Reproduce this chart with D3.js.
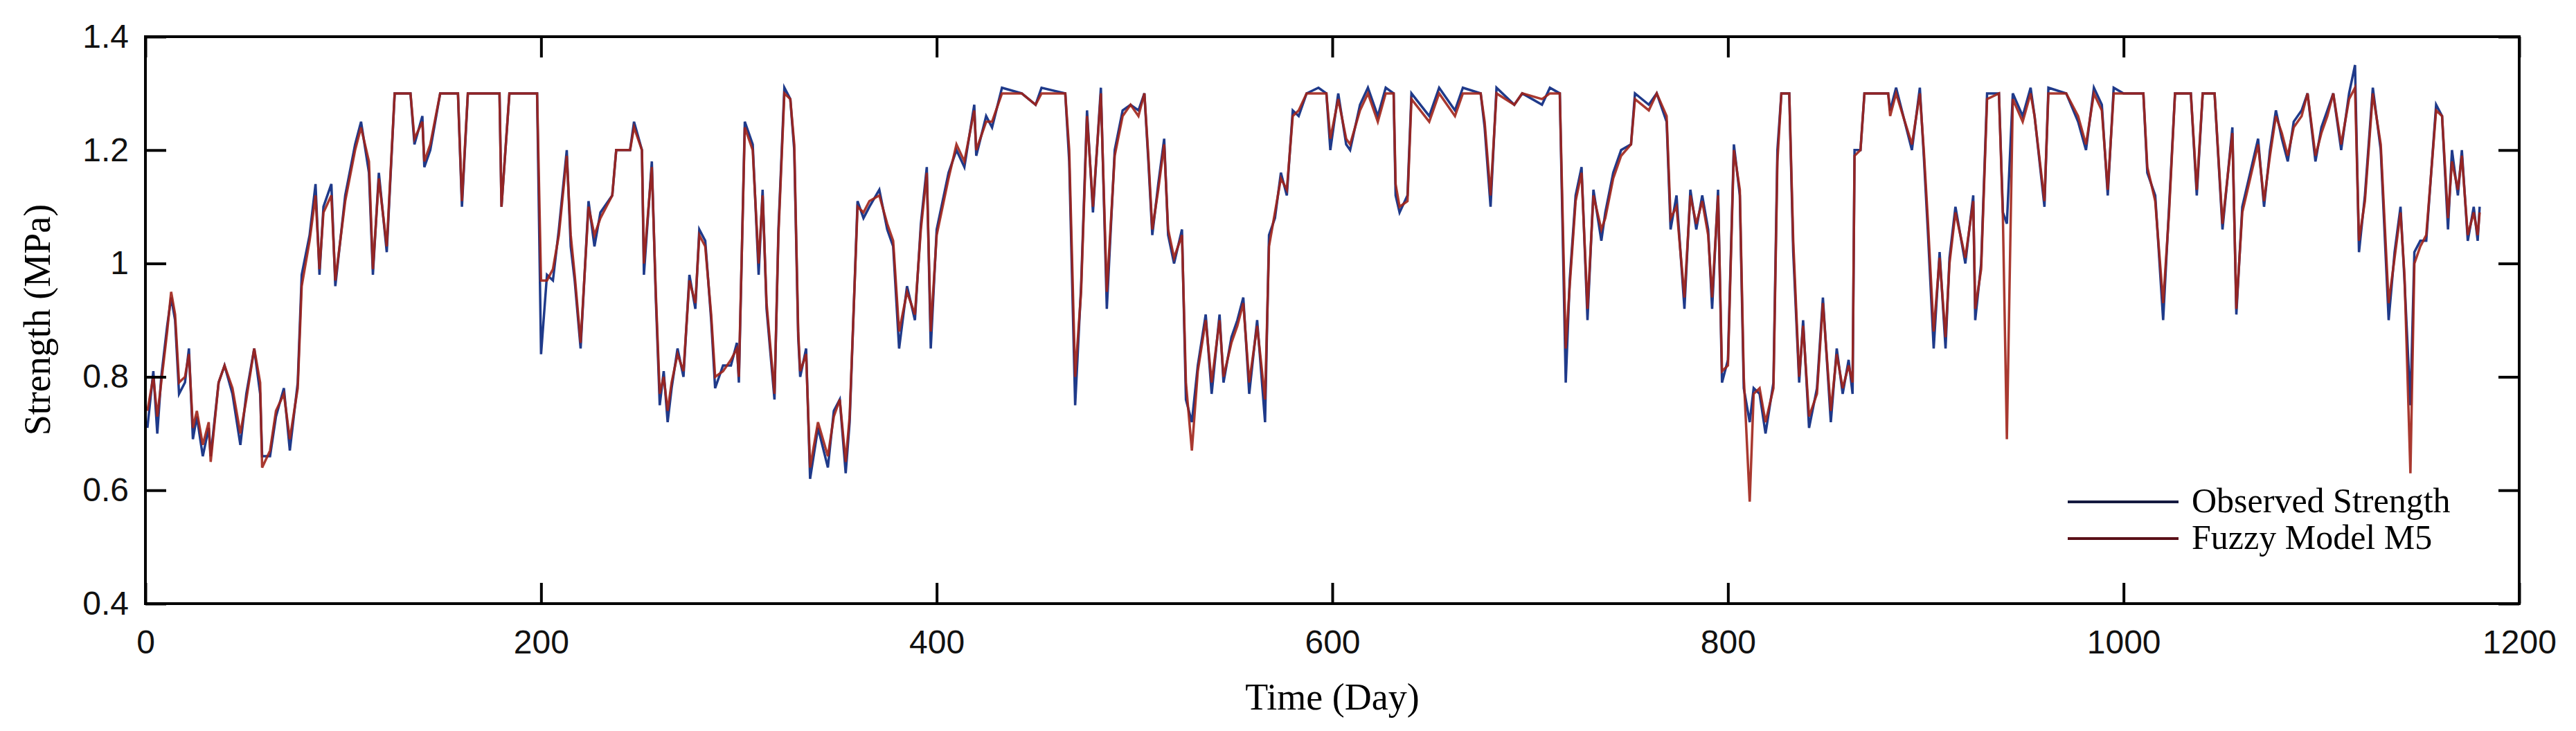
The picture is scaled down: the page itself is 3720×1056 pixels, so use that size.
<!DOCTYPE html>
<html><head><meta charset="utf-8">
<script src="https://cdn.jsdelivr.net/npm/d3@7"></script>
<style>body{margin:0;background:#fff}</style></head>
<body><svg id="c" width="3720" height="1056"></svg>
<script>
const days = [1,4,6,8,11,13,15,17,20,22,24,26,29,32,33,37,40,44,48,51,55,58,59,63,66,70,73,77,79,83,86,88,90,94,96,101,106,109,113,115,118,122,126,134,136,140,141,144,149,158,160,163,168,173,179,180,184,198,200,203,206,209,213,215,217,220,224,227,230,236,238,245,247,251,252,256,258,260,262,264,266,269,272,275,278,280,283,286,288,292,296,299,300,303,307,310,
312,314,318,320,323,326,328,330,331,334,336,340,345,348,351,354,356,360,363,366,371,375,378,381,385,389,392,395,397,400,406,410,414,419,420,425,428,433,443,450,453,465,467,470,473,476,479,483,486,490,494,498,502,505,507,509,512,515,517,520,524,526,529,532,536,539,543,545,549,552,555,558,562,566,568,571,574,577,580,583,587,593,597,599,603,
607,609,614,618,623,627,631,632,634,638,640,649,654,662,666,675,677,680,683,692,696,706,710,715,716,718,720,723,726,729,732,736,738,742,746,751,753,760,764,769,771,774,778,781,784,787,790,792,795,797,800,803,806,808,811,813,816,819,823,825,827,831,833,836,838,841,845,848,852,855,858,861,863,864,867,869,881,882,885,893,897,899,901,904,
907,910,912,915,920,924,925,928,931,937,939,941,944,949,953,955,960,962,971,977,981,985,989,992,995,1000,1010,1012,1016,1020,1023,1026,1034,1037,1040,1046,1050,1055,1057,1060,1064,1068,1071,1074,1077,1080,1083,1086,1090,1093,1097,1100,1103,1106,1110,1114,1117,1119,1122,1126,1130,1134,1137,1140,1142,1145,1147,1150,1153,1158,1161,1164,1166,1169,1171,1174,1177,1179,1180];

const observed = [0.71,0.81,0.70,0.80,0.89,0.94,0.90,0.77,0.79,0.85,0.69,0.73,0.66,0.71,0.66,0.79,0.82,0.77,0.68,0.77,0.85,0.77,0.66,0.66,0.73,0.78,0.67,0.79,0.98,1.05,1.14,0.98,1.10,1.14,0.96,1.12,1.21,1.25,1.16,0.98,1.16,1.02,1.30,1.30,1.21,1.26,1.17,1.20,1.30,1.30,1.10,1.30,1.30,1.30,1.30,1.10,1.30,1.30,0.84,0.98,0.97,1.06,1.20,1.03,0.97,0.85,1.11,1.03,1.09,1.12,1.20,1.20,1.25,1.20,0.98,1.18,0.94,0.75,0.81,0.72,0.78,0.85,0.80,0.98,0.92,1.06,1.04,0.90,0.78,0.82,0.82,0.86,0.79,1.25,1.21,0.98,
1.13,0.92,0.76,1.06,1.31,1.29,1.20,0.87,0.80,0.85,0.62,0.71,0.64,0.74,0.76,0.63,0.72,1.11,1.08,1.10,1.13,1.06,1.03,0.85,0.96,0.90,1.07,1.17,0.85,1.06,1.16,1.20,1.17,1.28,1.19,1.26,1.24,1.31,1.30,1.28,1.31,1.30,1.18,0.75,0.96,1.27,1.09,1.31,0.92,1.20,1.27,1.28,1.27,1.30,1.18,1.05,1.14,1.22,1.05,1.00,1.06,0.76,0.72,0.82,0.91,0.77,0.91,0.79,0.87,0.90,0.94,0.77,0.90,0.72,1.05,1.08,1.16,1.12,1.27,1.26,1.30,1.31,1.30,1.20,1.30,
1.21,1.20,1.28,1.31,1.26,1.31,1.30,1.12,1.09,1.12,1.30,1.26,1.31,1.27,1.31,1.30,1.24,1.10,1.31,1.28,1.30,1.28,1.31,1.30,1.13,0.79,0.97,1.12,1.17,0.90,1.13,1.04,1.09,1.16,1.20,1.21,1.30,1.28,1.30,1.25,1.06,1.12,0.92,1.13,1.06,1.12,1.06,0.92,1.13,0.79,0.83,1.21,1.12,0.78,0.72,0.78,0.77,0.70,0.79,1.20,1.30,1.30,1.02,0.79,0.90,0.71,0.78,0.94,0.72,0.85,0.77,0.83,0.77,1.20,1.20,1.30,1.30,1.27,1.31,1.20,1.31,1.19,1.06,0.85,
1.02,0.85,1.01,1.10,1.00,1.12,0.90,1.00,1.30,1.30,1.09,1.07,1.30,1.26,1.31,1.26,1.10,1.31,1.30,1.25,1.20,1.31,1.28,1.12,1.31,1.30,1.30,1.16,1.12,0.90,1.10,1.30,1.30,1.12,1.30,1.30,1.06,1.24,0.91,1.10,1.16,1.22,1.10,1.20,1.27,1.22,1.18,1.25,1.27,1.30,1.18,1.24,1.27,1.30,1.20,1.30,1.35,1.02,1.12,1.31,1.20,0.90,1.02,1.10,0.97,0.75,1.02,1.04,1.04,1.28,1.26,1.06,1.20,1.12,1.20,1.04,1.10,1.04,1.10];

const model = [0.74,0.80,0.73,0.79,0.88,0.95,0.91,0.79,0.80,0.84,0.71,0.74,0.68,0.72,0.65,0.79,0.82,0.78,0.70,0.76,0.85,0.79,0.64,0.67,0.74,0.77,0.69,0.78,0.96,1.04,1.12,0.99,1.09,1.12,0.97,1.11,1.20,1.24,1.18,0.99,1.15,1.03,1.30,1.30,1.22,1.25,1.18,1.21,1.30,1.30,1.11,1.30,1.30,1.30,1.30,1.10,1.30,1.30,0.97,0.97,0.99,1.05,1.19,1.05,0.98,0.86,1.10,1.05,1.08,1.12,1.20,1.20,1.24,1.20,1.00,1.17,0.95,0.77,0.80,0.74,0.79,0.84,0.81,0.97,0.93,1.05,1.03,0.91,0.80,0.81,0.83,0.85,0.80,1.24,1.20,1.00,
1.12,0.93,0.77,1.05,1.30,1.29,1.21,0.88,0.81,0.84,0.64,0.72,0.66,0.73,0.76,0.65,0.73,1.10,1.09,1.11,1.12,1.07,1.04,0.88,0.95,0.91,1.06,1.16,0.88,1.05,1.15,1.21,1.18,1.27,1.20,1.25,1.25,1.30,1.30,1.28,1.30,1.30,1.20,0.80,0.95,1.26,1.10,1.30,0.95,1.19,1.26,1.28,1.26,1.30,1.19,1.06,1.13,1.21,1.06,1.01,1.05,0.79,0.67,0.81,0.90,0.79,0.90,0.80,0.86,0.89,0.93,0.79,0.89,0.76,1.03,1.09,1.15,1.13,1.26,1.27,1.30,1.30,1.30,1.22,1.29,
1.22,1.21,1.27,1.30,1.25,1.30,1.30,1.14,1.10,1.11,1.29,1.25,1.30,1.26,1.30,1.30,1.25,1.12,1.30,1.28,1.30,1.29,1.30,1.30,1.15,0.85,0.96,1.11,1.16,0.92,1.12,1.06,1.08,1.15,1.19,1.21,1.29,1.27,1.30,1.26,1.08,1.10,0.94,1.12,1.07,1.11,1.05,0.94,1.12,0.81,0.82,1.20,1.13,0.80,0.58,0.77,0.78,0.72,0.78,1.18,1.30,1.30,1.04,0.80,0.89,0.73,0.77,0.93,0.74,0.84,0.78,0.82,0.79,1.19,1.20,1.30,1.30,1.26,1.30,1.21,1.30,1.20,1.08,0.88,
1.01,0.87,1.00,1.09,1.01,1.11,0.92,0.99,1.29,1.30,1.08,0.69,1.29,1.25,1.30,1.26,1.11,1.30,1.30,1.26,1.21,1.30,1.27,1.13,1.30,1.30,1.30,1.17,1.11,0.93,1.09,1.30,1.30,1.13,1.30,1.30,1.07,1.23,0.92,1.09,1.15,1.21,1.11,1.19,1.26,1.23,1.19,1.24,1.26,1.30,1.19,1.23,1.26,1.30,1.21,1.29,1.31,1.04,1.11,1.30,1.21,0.93,1.01,1.09,0.98,0.63,1.00,1.03,1.05,1.27,1.26,1.08,1.18,1.13,1.19,1.05,1.09,1.05,1.09];

const xTicks = [0,200,400,600,800,1000,1200];
const yTicks = [0.4,0.6,0.8,1,1.2,1.4];
const seriesNames = ["Observed Strength","Fuzzy Model M5"];
const colors = ["#1f3a8a","#a0241a"];

const L=210,R=3638,T=53,B=872;
const svg=d3.select("#c");
const x=d3.scaleLinear().domain([0,1200]).range([L,R]);
const y=d3.scaleLinear().domain([0.4,1.4]).range([B,T]);

const line=d3.line().x(d=>x(d[0])).y(d=>y(d[1]));
const obsData=days.map((d,i)=>[d,observed[i]]);
const modData=days.map((d,i)=>[d,model[i]]);
svg.append("path").datum(obsData).attr("d",line).attr("fill","none").attr("stroke",colors[0]).attr("stroke-width",3.5);
svg.append("path").datum(modData).attr("d",line).attr("fill","none").attr("stroke",colors[1]).attr("stroke-width",3.5).attr("stroke-opacity",0.9);

// frame
svg.append("rect").attr("x",L).attr("y",T).attr("width",R-L).attr("height",B-T).attr("fill","none").attr("stroke","#000").attr("stroke-width",4);

const gx=svg.append("g").attr("transform",`translate(0,${B})`).call(d3.axisBottom(x).tickValues(xTicks).tickFormat(d3.format("d")).tickSize(-30).tickPadding(38));
const gxt=svg.append("g").attr("transform",`translate(0,${T})`).call(d3.axisTop(x).tickValues(xTicks).tickFormat("").tickSize(-30));
const gy=svg.append("g").attr("transform",`translate(${L},0)`).call(d3.axisLeft(y).tickValues(yTicks).tickFormat(d=>d===1?"1":d.toFixed(1)).tickSize(-30).tickPadding(24));
const gyr=svg.append("g").attr("transform",`translate(${R},0)`).call(d3.axisRight(y).tickValues(yTicks).tickFormat("").tickSize(-30));
[gx,gxt,gy,gyr].forEach(g=>{g.select(".domain").remove();g.selectAll("line").attr("stroke","#000").attr("stroke-width",4);
 g.selectAll("text").attr("font-family","Liberation Sans, Arial, sans-serif").attr("font-size",48).attr("fill","#111");});

svg.append("text").attr("x",(L+R)/2).attr("y",1025).attr("text-anchor","middle").attr("font-family","Liberation Serif, serif").attr("font-size",54).text("Time (Day)");
svg.append("text").attr("transform","translate(72,462) rotate(-90)").attr("text-anchor","middle").attr("font-family","Liberation Serif, serif").attr("font-size",54).text("Strength (MPa)");

const legY=[725,778];
seriesNames.forEach((n,i)=>{
  svg.append("line").attr("x1",2986).attr("x2",3146).attr("y1",legY[i]).attr("y2",legY[i]).attr("stroke",i?"#5a1018":"#141a40").attr("stroke-width",4);
  svg.append("text").attr("x",3165).attr("y",legY[i]+15).attr("font-family","Liberation Serif, serif").attr("font-size",50).text(n);
});
</script></body></html>
